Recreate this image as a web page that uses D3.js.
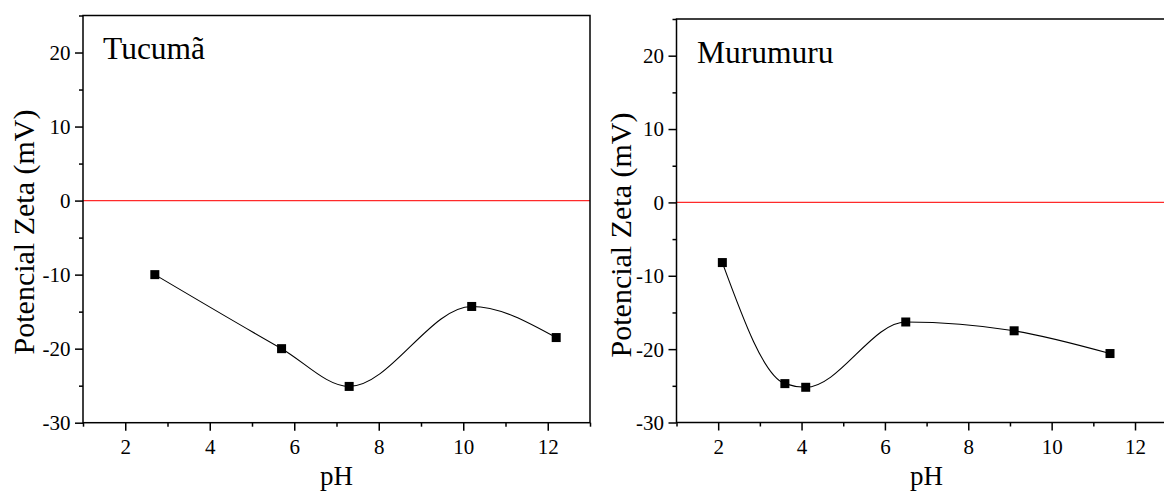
<!DOCTYPE html>
<html><head><meta charset="utf-8">
<script src="https://cdn.jsdelivr.net/npm/d3@7"></script>
<style>
body{margin:0;background:#fff}
svg{display:block}
text{font-family:"Liberation Serif","Times New Roman",Times,serif;fill:#000}
</style>
</head><body>
<svg id="chart" width="1164" height="491"></svg>
<script>
const tucumaPH = [2.7, 5.7, 7.3, 10.2, 12.2];
const tucumaZeta = [-10, -20, -25.1, -14.3, -18.5];
const murumuruPH = [2.1, 3.6, 4.1, 6.5, 9.1, 11.4];
const murumuruZeta = [-8.2, -24.7, -25.2, -16.3, -17.5, -20.6];
const xMajorTicks = [2, 4, 6, 8, 10, 12];
const xMinorTicks = [1, 3, 5, 7, 9, 11, 13];
const yMajorTicks = [-30, -20, -10, 0, 10, 20];
const yMinorTicks = [-25, -15, -5, 5, 15, 25];
const panelTitles = ["Tucumã", "Murumuru"];
const xTitle = "pH";
const yTitle = "Potencial Zeta (mV)";
const xDomain = [1, 13];
const yDomain = [-30, 25];

const FONT = '"Liberation Serif","Times New Roman",Times,serif';

const panels = [
  {x: tucumaPH, y: tucumaZeta, title: panelTitles[0], left: 83, right: 590, top: 15.5, bottom: 422.7, titleX: 103, titleY: 59, yLabX: 33.5, yLabY: 232},
  {x: murumuruPH, y: murumuruZeta, title: panelTitles[1], left: 676.5, right: 1176.7, top: 19, bottom: 422.5, titleX: 697, titleY: 62.5, yLabX: 631, yLabY: 235}
];

const svg = d3.select("#chart");

panels.forEach(p => {
  const xs = d3.scaleLinear().domain(xDomain).range([p.left, p.right]);
  const ys = d3.scaleLinear().domain(yDomain).range([p.bottom, p.top]);
  const g = svg.append("g");

  // zero line
  g.append("line")
    .attr("x1", xs(xDomain[0])).attr("x2", xs(xDomain[1]))
    .attr("y1", ys(0)).attr("y2", ys(0))
    .attr("stroke", "#ff2a2a").attr("stroke-width", 1.3);

  // frame
  g.append("rect")
    .attr("x", p.left).attr("y", p.top)
    .attr("width", p.right - p.left).attr("height", p.bottom - p.top)
    .attr("fill", "none").attr("stroke", "#000").attr("stroke-width", 1.5);

  const fmt = d => String(d);

  // x axis major
  const xAx = g.append("g").attr("transform", `translate(0,${p.bottom})`)
    .call(d3.axisBottom(xs).tickValues(xMajorTicks).tickSize(8).tickSizeOuter(0).tickFormat(fmt));
  xAx.attr("font-family", FONT);
  xAx.select(".domain").remove();
  xAx.selectAll(".tick line").attr("stroke", "#000").attr("stroke-width", 1.5);
  xAx.selectAll(".tick text").attr("y", 31.5).attr("dy", 0)
    .style("font-size", "21px").style("font-family", FONT);
  // x axis minor
  const xMin = g.append("g").attr("transform", `translate(0,${p.bottom})`)
    .call(d3.axisBottom(xs).tickValues(xMinorTicks).tickSize(4).tickSizeOuter(0).tickFormat(""));
  xMin.select(".domain").remove();
  xMin.selectAll(".tick line").attr("stroke", "#000").attr("stroke-width", 1.5);

  // y axis major
  const yAx = g.append("g").attr("transform", `translate(${p.left},0)`)
    .call(d3.axisLeft(ys).tickValues(yMajorTicks).tickSize(8).tickSizeOuter(0).tickFormat(fmt));
  yAx.attr("font-family", FONT);
  yAx.select(".domain").remove();
  yAx.selectAll(".tick line").attr("stroke", "#000").attr("stroke-width", 1.5);
  yAx.selectAll(".tick text").attr("x", -12.5).attr("dy", "0.33em")
    .style("font-size", "21px").style("font-family", FONT);
  const yMin = g.append("g").attr("transform", `translate(${p.left},0)`)
    .call(d3.axisLeft(ys).tickValues(yMinorTicks).tickSize(4).tickSizeOuter(0).tickFormat(""));
  yMin.select(".domain").remove();
  yMin.selectAll(".tick line").attr("stroke", "#000").attr("stroke-width", 1.5);

  // axis titles
  g.append("text")
    .attr("x", (p.left + p.right) / 2).attr("y", 485)
    .attr("text-anchor", "middle").style("font-size", "27px").style("font-family", FONT).text(xTitle);
  g.append("text")
    .attr("transform", `translate(${p.yLabX},${p.yLabY}) rotate(-90)`)
    .attr("text-anchor", "middle").style("font-size", "30px").style("font-family", FONT).text(yTitle);

  // panel title
  g.append("text")
    .attr("x", p.titleX).attr("y", p.titleY)
    .style("font-size", "31.5px").style("font-family", FONT).text(p.title);

  // data curve
  const pts = p.x.map((v, i) => [v, p.y[i]]);
  const line = d3.line().x(d => xs(d[0])).y(d => ys(d[1])).curve(d3.curveMonotoneX);
  g.append("path").attr("d", line(pts)).attr("fill", "none").attr("stroke", "#000").attr("stroke-width", 1.1);

  // markers
  const s = 9;
  g.selectAll("rect.pt").data(pts).enter().append("rect").attr("class", "pt")
    .attr("x", d => xs(d[0]) - s / 2).attr("y", d => ys(d[1]) - s / 2)
    .attr("width", s).attr("height", s).attr("fill", "#000");
});
</script>
</body></html>
